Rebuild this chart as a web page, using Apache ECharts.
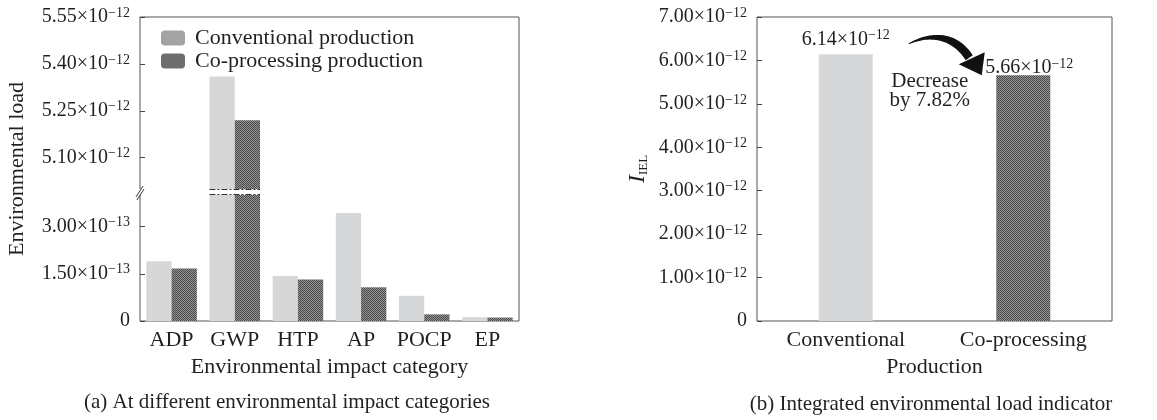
<!DOCTYPE html>
<html><head><meta charset="utf-8">
<script src="https://cdn.jsdelivr.net/npm/echarts@6/dist/echarts.min.js"></script>
<style>html,body{margin:0;padding:0;background:#fff}#c{width:1157px;height:420px}</style>
</head><body><div id="c"></div>
<script>
// values in units of 1e-12
const categories = ['ADP', 'GWP', 'HTP', 'AP', 'POCP', 'EP'];
const conventional = [0.190, 5.36, 0.143, 0.343, 0.080, 0.012];
const coprocessing = [0.167, 5.22, 0.132, 0.107, 0.021, 0.011];
const upperTicks = [5.10, 5.25, 5.40, 5.55];
const lowerTicks = [0, 0.15, 0.30];
const breakLow = 0.40, breakHigh = 5.00, upperMax = 5.55;
const productions = ['Conventional', 'Co-processing'];
const iel = [6.14, 5.66];
const ielMax = 7, ielInterval = 1;
const seriesNames = ['Conventional production', 'Co-processing production'];

const FF = '"Liberation Serif","Times New Roman",serif';
const TXT = '#231f20';
const LIGHT = '#d6d7d9';
const pc = document.createElement('canvas'); pc.width = 2; pc.height = 2;
const g = pc.getContext('2d');
g.fillStyle = '#939393'; g.fillRect(0, 0, 2, 2);
g.fillStyle = '#4a4a4a'; g.fillRect(0, 0, 1, 1); g.fillRect(1, 1, 1, 1);
const pattern = { image: pc, repeat: 'repeat' };

const rich = {
  m: { fontSize: 20, fontFamily: FF, color: TXT, lineHeight: 22 },
  s: { fontSize: 14, fontFamily: FF, color: TXT, verticalAlign: 'top', lineHeight: 14 }
};
function fmt(v) {
  if (Math.abs(v) < 1e-9) return '{m|0}';
  if (v < 1) return '{m|' + (v * 10).toFixed(2) + '×10}{s|−13}';
  return '{m|' + v.toFixed(2) + '×10}{s|−12}';
}
const tickStyle = { color: '#444', width: 1 };

const chart = echarts.init(document.getElementById('c'));
const option = {
  animation: false,
  backgroundColor: '#fff',
  textStyle: { fontFamily: FF },
  legend: {
    data: [{ name: seriesNames[0], itemStyle: { color: '#a3a3a3' } }, { name: seriesNames[1] }],
    orient: 'vertical', left: 161, top: 27, padding: 0, itemWidth: 24, itemHeight: 15, itemGap: 1,
    textStyle: { fontSize: 22, fontFamily: FF, color: TXT, padding: [0, 0, 0, 5] }
  },
  grid: [
    { left: 140, top: 17, width: 379, height: 304, show: true, borderColor: '#555', borderWidth: 1 },
    { left: 140, top: 17, width: 379, height: 172 },
    { left: 140, top: 195, width: 379, height: 126 },
    { left: 757, top: 17, width: 355, height: 304, show: true, borderColor: '#555', borderWidth: 1 }
  ],
  xAxis: [
    { gridIndex: 0, type: 'value', show: false },
    { gridIndex: 1, type: 'category', data: categories, show: false },
    { gridIndex: 2, type: 'category', data: categories,
      axisLine: { show: false }, axisTick: { show: false },
      axisLabel: { interval: 0, fontSize: 22, fontFamily: FF, color: TXT, margin: 8 },
      name: 'Environmental impact category', nameLocation: 'middle', nameGap: 35,
      nameTextStyle: { fontSize: 22, fontFamily: FF, color: TXT } },
    { gridIndex: 3, type: 'category', data: productions,
      axisLine: { show: false }, axisTick: { show: false },
      axisLabel: { interval: 0, fontSize: 22, fontFamily: FF, color: TXT, margin: 8 },
      name: 'Production', nameLocation: 'middle', nameGap: 35,
      nameTextStyle: { fontSize: 22, fontFamily: FF, color: TXT } }
  ],
  yAxis: [
    { gridIndex: 0, type: 'value', show: true, axisLine: { show: false }, axisTick: { show: false },
      axisLabel: { show: false }, splitLine: { show: false },
      name: 'Environmental load', nameLocation: 'middle', nameGap: 112, nameRotate: 90,
      nameTextStyle: { fontSize: 22, fontFamily: FF, color: TXT } },
    { gridIndex: 1, type: 'value', min: breakHigh, max: upperMax,
      axisLine: { show: false }, splitLine: { show: false },
      axisTick: { show: true, inside: true, length: 5, customValues: upperTicks, lineStyle: tickStyle },
      axisLabel: { customValues: upperTicks, formatter: fmt, rich: rich, margin: 10 } },
    { gridIndex: 2, type: 'value', min: 0, max: breakLow,
      axisLine: { show: false }, splitLine: { show: false },
      axisTick: { show: true, inside: true, length: 5, customValues: lowerTicks, lineStyle: tickStyle },
      axisLabel: { customValues: lowerTicks, formatter: fmt, rich: rich, margin: 10 } },
    { gridIndex: 3, type: 'value', min: 0, max: ielMax, interval: ielInterval,
      axisLine: { show: false }, splitLine: { show: false },
      axisTick: { show: true, inside: true, length: 5, lineStyle: tickStyle },
      axisLabel: { formatter: fmt, rich: rich, margin: 10 },
      name: '{i|I}{s|IEL}', nameLocation: 'middle', nameGap: 107, nameRotate: 90,
      nameTextStyle: { rich: {
        i: { fontSize: 24, fontFamily: FF, fontStyle: 'italic', color: TXT },
        s: { fontSize: 13, fontFamily: FF, color: TXT, verticalAlign: 'bottom' } } } }
  ],
  series: [
    { type: 'bar', name: seriesNames[0], xAxisIndex: 1, yAxisIndex: 1, barGap: 0, barCategoryGap: '20%',
      itemStyle: { color: LIGHT }, data: conventional.map(v => v >= breakHigh ? v : '-') },
    { type: 'bar', name: seriesNames[1], xAxisIndex: 1, yAxisIndex: 1, barGap: 0, barCategoryGap: '20%',
      itemStyle: { color: pattern }, data: coprocessing.map(v => v >= breakHigh ? v : '-') },
    { type: 'bar', name: seriesNames[0], xAxisIndex: 2, yAxisIndex: 2, barGap: 0, barCategoryGap: '20%',
      itemStyle: { color: LIGHT }, data: conventional },
    { type: 'bar', name: seriesNames[1], xAxisIndex: 2, yAxisIndex: 2, barGap: 0, barCategoryGap: '20%',
      itemStyle: { color: pattern }, data: coprocessing },
    { type: 'bar', name: 'IEL', xAxisIndex: 3, yAxisIndex: 3, barWidth: 54,
      data: iel.map((v, i) => ({ value: v, itemStyle: { color: i === 0 ? LIGHT : pattern },
        label: { offset: i === 0 ? [0, 0] : [6, 8] } })),
      label: { show: true, position: 'top', distance: 4, formatter: p => fmt(p.value), rich: rich } }
  ]
};
chart.setOption(option);

// decorations derived from the axes
const yBreakTop = chart.convertToPixel({ yAxisIndex: 1 }, breakHigh);
const yBreakBot = chart.convertToPixel({ yAxisIndex: 2 }, breakLow);
const c0 = chart.convertToPixel({ xAxisIndex: 1 }, categories[0]);
const c1 = chart.convertToPixel({ xAxisIndex: 1 }, categories[1]);
const band = c1 - c0;
const axisX = c0 - band / 2;
const gwpL = c1 - band * 0.4, gwpR = c1 + band * 0.4;
const p0 = chart.convertToPixel({ xAxisIndex: 3, yAxisIndex: 3 }, [productions[0], iel[0]]);
const ox = p0[0], oy = p0[1];

function bez(a, b, c, d, n) {
  const pts = [];
  for (let k = 0; k <= n; k++) {
    const t = k / n, u = 1 - t;
    pts.push([
      ox + u*u*u*a[0] + 3*u*u*t*b[0] + 3*u*t*t*c[0] + t*t*t*d[0],
      oy + u*u*u*a[1] + 3*u*u*t*b[1] + 3*u*t*t*c[1] + t*t*t*d[1]
    ]);
  }
  return pts;
}
const arrowBody = bez([63, -11], [81, -22], [110, -26], [127, 1], 30)
  .concat(bez([120, 6], [106, -16], [84, -19], [63, -10], 30));
const arrowHead = [[ox + 113, oy + 10], [ox + 139, oy - 2], [ox + 136, oy + 21]];

const dash = { stroke: '#333', lineWidth: 1, lineDash: [6, 2, 2, 2] };
chart.setOption({
  graphic: [
    { type: 'rect', shape: { x: axisX - 3, y: yBreakTop, width: 6, height: yBreakBot - yBreakTop }, style: { fill: '#fff' }, z: 100 },
    { type: 'line', shape: { x1: axisX - 4, y1: yBreakTop + 8, x2: axisX + 3, y2: yBreakTop - 3 }, style: { stroke: '#333', lineWidth: 1 }, z: 101 },
    { type: 'line', shape: { x1: axisX - 3, y1: yBreakBot + 5, x2: axisX + 4, y2: yBreakBot - 6 }, style: { stroke: '#333', lineWidth: 1 }, z: 101 },
    { type: 'line', shape: { x1: gwpL, y1: yBreakTop + 0.5, x2: gwpR, y2: yBreakTop + 0.5 }, style: dash, z: 101 },
    { type: 'line', shape: { x1: gwpL, y1: yBreakBot - 0.5, x2: gwpR, y2: yBreakBot - 0.5 }, style: dash, z: 101 },
    { type: 'polygon', shape: { points: arrowBody }, style: { fill: '#111' }, z: 101 },
    { type: 'polygon', shape: { points: arrowHead }, style: { fill: '#111' }, z: 101 },
    { type: 'text', x: ox + 84, y: oy + 37, style: { text: 'Decrease\nby 7.82%', font: '21px ' + FF, fill: TXT, align: 'center', verticalAlign: 'middle', lineHeight: 19 } },
    { type: 'text', x: 287, y: 402, style: { text: '(a) At different environmental impact categories', font: '21px ' + FF, fill: TXT, align: 'center', verticalAlign: 'middle' } },
    { type: 'text', x: 931, y: 404, style: { text: '(b) Integrated environmental load indicator', font: '21px ' + FF, fill: TXT, align: 'center', verticalAlign: 'middle' } }
  ]
});
</script></body></html>
